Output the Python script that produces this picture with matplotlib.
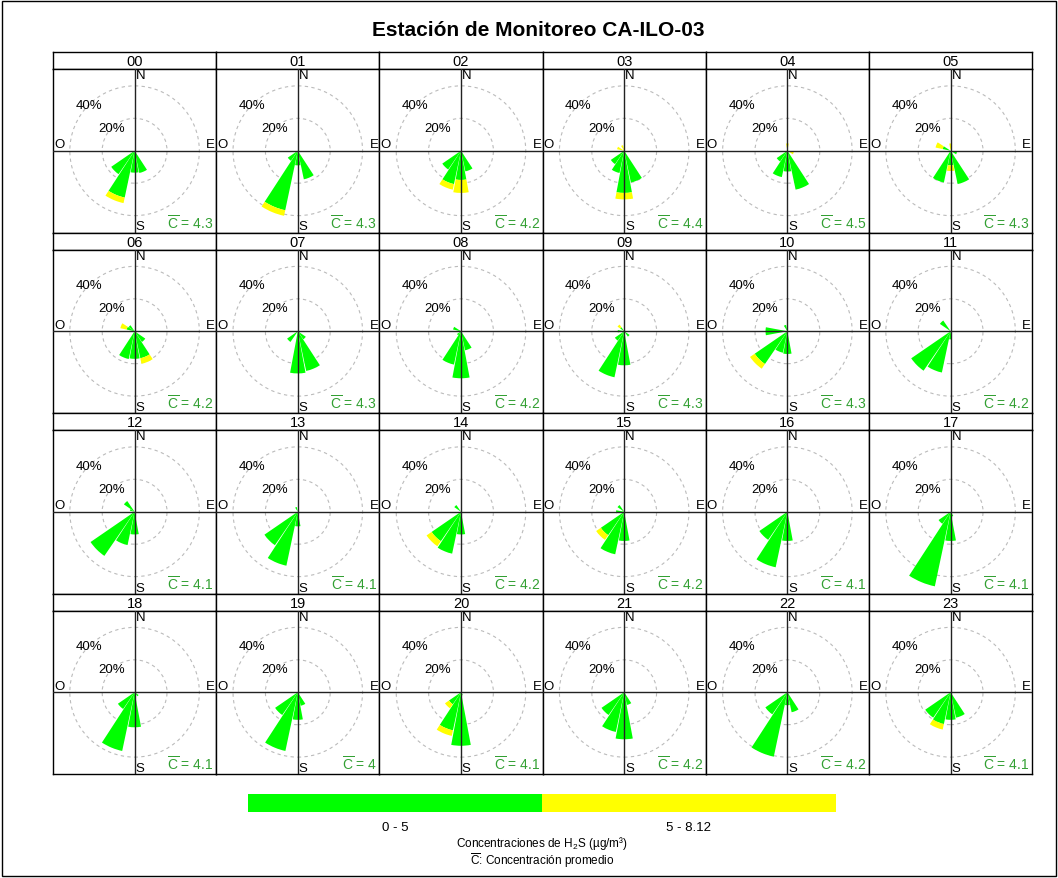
import matplotlib
matplotlib.use('Agg')
import matplotlib.pyplot as plt
from matplotlib.patches import Wedge, Circle, Rectangle
import numpy as np

plt.rcParams['font.family'] = ['Liberation Sans', 'DejaVu Sans']
plt.rcParams['mathtext.fontset'] = 'custom'
plt.rcParams['mathtext.rm'] = 'Liberation Sans'

# hours of the day (one panel each)
hours = ['%02d' % h for h in range(24)]

# 16 wind sectors, compass degrees
directions = ['N', 'NNE', 'NE', 'ENE', 'E', 'ESE', 'SE', 'SSE',
              'S', 'SSW', 'SW', 'WSW', 'W', 'WNW', 'NW', 'NNW']
dir_deg = [0, 22.5, 45, 67.5, 90, 112.5, 135, 157.5,
           180, 202.5, 225, 247.5, 270, 292.5, 315, 337.5]

# frequency (%) with H2S in 0 - 5 ug/m3, per hour (rows) and sector (cols)
freq_low = [
    [0, 0, 0, 0, 0, 0, 0, 14, 13.5, 29.5, 17.5, 0, 0, 0, 0, 0],    # 00
    [0, 0, 0, 0, 0, 0, 0, 18, 9, 37.5, 7.5, 0, 0, 0, 0, 0],        # 01
    [0, 0, 0, 0, 0, 0, 0, 13, 18, 21, 14, 0, 0, 0, 0, 0],          # 02
    [0, 0, 0, 0, 0, 0, 0, 20, 26, 14, 10, 0, 0, 0.5, 0, 0.5],      # 03
    [0.5, 0, 0, 0, 0, 1, 0, 24.5, 12.8, 16.6, 8, 0, 0, 0, 0, 0],   # 04
    [0.5, 0, 0, 0, 0, 4, 0, 21, 9, 20, 0, 0, 0, 5, 0, 0],          # 05
    [0, 0, 0, 0, 0, 0, 8, 17, 17, 17.5, 0, 0, 0, 5, 4.5, 0],       # 06
    [0, 0, 0, 0, 0, 0, 6, 25, 26, 0, 8, 0, 0, 0, 0, 0],            # 07
    [0, 0, 0, 0, 0, 0, 0, 12, 29, 21, 3, 0, 0, 5, 0, 0],           # 08
    [0, 0, 0, 0, 0, 0, 4, 0, 21, 29, 7, 0, 4, 0, 3, 0],            # 09
    [0, 0, 0, 0, 0, 0, 0, 0, 14, 13.5, 24.5, 0, 13.5, 0, 0, 4],    # 10
    [0, 0, 0, 0, 0, 0, 0, 0, 5, 26, 29.5, 0, 0, 0, 8, 0],          # 11
    [0, 0, 0, 0, 0, 0, 0, 0, 14, 21, 33, 0, 0, 3, 8, 0],           # 12
    [0, 0, 0, 0, 0, 0, 0, 0, 9, 34, 25, 0, 0, 0, 0, 3],            # 13
    [0, 0, 0, 0, 0, 0, 0, 0, 14, 26.4, 22, 0, 0, 0, 5, 0],         # 14
    [0, 0, 0, 0, 0, 0, 0, 0, 18, 26.8, 17.5, 0, 5, 0, 5, 0],       # 15
    [0, 0, 0, 0, 0, 0, 0, 0, 18, 35, 21, 0, 0, 0, 0, 0],           # 16
    [0, 0, 0, 0, 0, 0, 0, 3, 18, 47, 9, 0, 0, 0, 0, 0],            # 17
    [0, 0, 0, 0, 0, 0, 3, 0, 21.6, 37, 12.5, 0, 0, 0, 0, 0],       # 18
    [0, 0, 0, 0, 0, 0, 0, 8.5, 17, 37, 17, 0, 0, 0, 0, 0],         # 19
    [0, 0, 0, 0, 0, 0, 0, 2, 33, 24, 9, 0, 0, 0, 0, 0],            # 20
    [0, 0, 0, 0, 0, 0, 0, 8, 29, 25, 17, 0, 0, 0, 0, 0],           # 21
    [0, 0, 0, 0, 0, 0, 0, 12.6, 8, 40.6, 16.5, 0, 0, 0, 0, 0],     # 22
    [0, 0, 0, 0, 0, 0, 0, 16, 17, 20, 19, 0, 0, 0, 0, 0],          # 23
]

# frequency (%) with H2S in 5 - 8.12 ug/m3
freq_high = [
    [0, 0, 0, 0, 0, 0, 0, 0, 0, 3.5, 0, 0, 0, 0, 0, 0],      # 00
    [0, 0, 0, 0, 0, 0, 0, 0, 0, 3.5, 0, 0, 0, 0, 0, 0],      # 01
    [0, 0, 0, 0, 0, 0, 0, 0, 8, 3.5, 0, 0, 0, 0, 0, 0],      # 02
    [0, 0, 0, 0, 0, 0, 0, 0, 4, 0, 0, 0, 0, 4, 0, 3],        # 03
    [4, 0, 0, 0, 0, 3, 0, 0, 0, 0, 0, 0, 0, 0, 0, 0],        # 04
    [4, 0, 0, 0, 0, 0, 0, 0, 3.5, 0, 0, 0, 0, 4.5, 0, 0],    # 05
    [0, 0, 0, 0, 0, 0, 0, 3.5, 0, 0, 0, 0, 0, 4, 0, 0],      # 06
    [0, 0, 0, 0, 0, 0, 0, 0, 0, 0, 0, 0, 0, 0, 0, 0],        # 07
    [0, 0, 0, 0, 0, 0, 0, 0, 0, 0, 0, 0, 0, 0, 0, 0],        # 08
    [0, 0, 0, 0, 0, 0, 0, 0, 0, 0, 0, 0, 0, 0, 2, 0],        # 09
    [0, 0, 0, 0, 0, 0, 0, 0, 0, 0, 3.5, 0, 0, 0, 0, 0],      # 10
    [0, 0, 0, 0, 0, 0, 0, 0, 0, 0, 0, 0, 0, 0, 0, 0],        # 11
    [0, 0, 0, 0, 0, 0, 0, 0, 0, 0, 0, 0, 0, 0, 0, 0],        # 12
    [0, 0, 0, 0, 0, 0, 0, 0, 0, 0, 0, 0, 0, 0, 0, 0],        # 13
    [0, 0, 0, 0, 0, 0, 0, 0, 0, 0, 3.8, 0, 0, 0, 0, 0],      # 14
    [0, 0, 0, 0, 0, 0, 0, 0, 0, 0, 3.5, 0, 0, 0, 0, 0],      # 15
    [0, 0, 0, 0, 0, 0, 0, 0, 0, 0, 0, 0, 0, 0, 0, 0],        # 16
    [0, 0, 0, 0, 0, 0, 0, 0, 0, 0, 0, 0, 0, 0, 0, 0],        # 17
    [0, 0, 0, 0, 0, 0, 0, 0, 0, 0, 0, 0, 0, 0, 0, 0],        # 18
    [0, 0, 0, 0, 0, 0, 0, 0, 0, 0, 0, 0, 0, 0, 0, 0],        # 19
    [0, 0, 0, 0, 0, 0, 0, 0, 0, 3.5, 3, 0, 0, 0, 0, 0],      # 20
    [0, 0, 0, 0, 0, 0, 0, 0, 0, 0, 0, 0, 0, 0, 0, 0],        # 21
    [0, 0, 0, 0, 0, 0, 0, 0, 0, 0, 0, 0, 0, 0, 0, 0],        # 22
    [0, 0, 0, 0, 0, 0, 0, 0, 0, 3.5, 0, 0, 0, 0, 0, 0],      # 23
]

# mean concentration per hour
mean_conc = ['4.3', '4.3', '4.2', '4.4', '4.5', '4.3',
             '4.2', '4.3', '4.2', '4.3', '4.3', '4.2',
             '4.1', '4.1', '4.2', '4.2', '4.1', '4.1',
             '4.1', '4', '4.1', '4.2', '4.2', '4.1']

class_labels = ['0 - 5', '5 - 8.12']
class_colors = ['#00ff00', '#ffff00']

W, H = 1058, 879
fig = plt.figure(figsize=(W / 100, H / 100), dpi=100)

# frame round the whole figure
fig.patches.append(Rectangle((2 / W, 2 / H), 1 - 4 / W, 1 - 4 / H,
                             transform=fig.transFigure, fill=False,
                             edgecolor='black', lw=1))

fig.text(538 / W, 1 - 30 / H, 'Estación de Monitoreo CA-ILO-03',
         ha='center', va='center', fontsize=15, fontweight='bold')

x0, col_w = 53, 163.2
y0, row_h, strip_h = 53, 180.5, 17
lim = 50.4
half = 22.5 / 2 - 0.7

for k, hour in enumerate(hours):
    r, c = divmod(k, 6)
    left = x0 + c * col_w
    top = y0 + r * row_h

    # strip with the hour
    sax = fig.add_axes([left / W, 1 - (top + strip_h) / H, col_w / W, strip_h / H])
    sax.set_xticks([])
    sax.set_yticks([])
    sax.text(0.5, 0.45, hour, ha='center', va='center', fontsize=10.5,
             transform=sax.transAxes)

    ax = fig.add_axes([left / W, 1 - (top + row_h) / H, col_w / W,
                       (row_h - strip_h) / H])
    ax.set_xlim(-lim, lim)
    ax.set_ylim(-lim, lim)
    ax.set_xticks([])
    ax.set_yticks([])
    for s in ax.spines.values():
        s.set_linewidth(1)
    for sp in sax.spines.values():
        sp.set_linewidth(1)

    for rad in (20, 40):
        ax.add_patch(Circle((0, 0), rad, fill=False, edgecolor='#bbbbbb',
                            lw=0.8, ls=(0, (3, 3)), zorder=1))
        ang = np.deg2rad(135)
        ax.text(rad * np.cos(ang), rad * np.sin(ang), '%d%%' % rad,
                ha='center', va='center', fontsize=9.5)

    for d, g, y in zip(dir_deg, freq_low[k], freq_high[k]):
        t1, t2 = 90 - d - half, 90 - d + half
        if g > 0:
            ax.add_patch(Wedge((0, 0), g, t1, t2, facecolor=class_colors[0],
                               lw=0, zorder=2))
        if y > 0:
            ax.add_patch(Wedge((0, 0), g + y, t1, t2, width=y,
                               facecolor=class_colors[1], lw=0, zorder=2))

    ax.axhline(0, color='#222222', lw=1, zorder=3)
    ax.axvline(0, color='#222222', lw=1, zorder=3)

    ax.text(0.505, 0.997, 'N', ha='left', va='top', fontsize=9.5,
            transform=ax.transAxes)
    ax.text(0.505, 0.0, 'S', ha='left', va='bottom', fontsize=9.5,
            transform=ax.transAxes)
    ax.text(0.006, 0.503, 'O', ha='left', va='bottom', fontsize=9.5,
            transform=ax.transAxes)
    ax.text(0.994, 0.503, 'E', ha='right', va='bottom', fontsize=9.5,
            transform=ax.transAxes)
    ax.text(0.985, 0.008, r'$\overline{\mathrm{C}}$ = ' + mean_conc[k],
            ha='right', va='bottom', fontsize=10, color='#33a033',
            transform=ax.transAxes)

# colour key
kax = fig.add_axes([248 / W, 1 - 813 / H, 588 / W, 18 / H])
kax.barh([0, 0], [1, 1], left=[0, 1], height=1, color=class_colors)
kax.set_xlim(0, 2)
kax.set_ylim(-0.5, 0.5)
kax.axis('off')
for i, lab in enumerate(class_labels):
    fig.text((248 + 147 + i * 294) / W, 1 - 828 / H, lab,
             ha='center', va='center', fontsize=9.5)
fig.text(542 / W, 1 - 844 / H, r'Concentraciones de H$_2$S (µg/m³)',
         ha='center', va='center', fontsize=8.5)
fig.text(542 / W, 1 - 861 / H, r'$\overline{\mathrm{C}}$: Concentración promedio',
         ha='center', va='center', fontsize=8.5)

fig.savefig('out.png', dpi=100)
